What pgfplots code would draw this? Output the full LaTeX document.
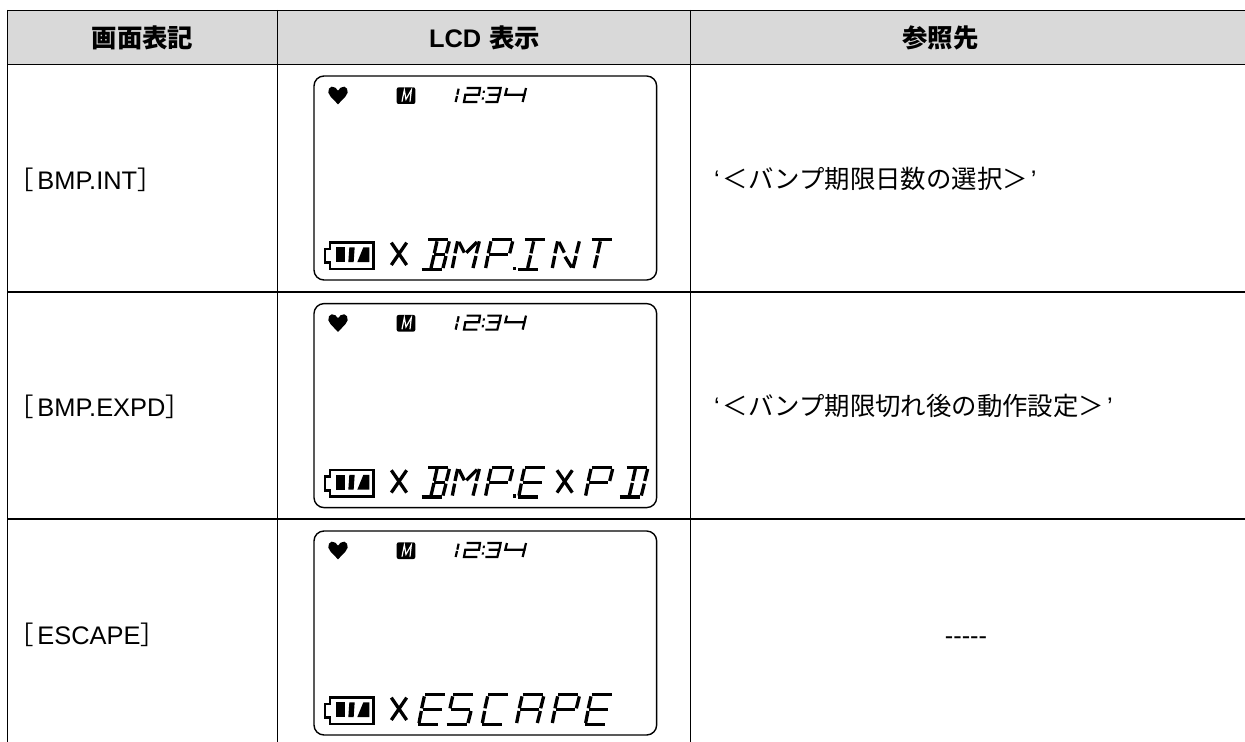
\documentclass[border=0pt]{standalone}
\usepackage{pgfplots}
\pgfplotsset{compat=1.18}
\usepackage{fontspec}
\setmainfont{Liberation Sans}
\newfontfamily\cjk{Noto Sans CJK JP}
\definecolor{hdr}{HTML}{D9D9D9}
\def\lx{0}\def\dy{0}
\pgfplotsset{
  lcdgeom/.style={forget plot,
    x filter/.code={\pgfmathparse{270+(\lx+##1)/3}},
    y filter/.code={\pgfmathparse{60+##1/3+\dy}}},
  tline/.style={forget plot,black,line width=#1,line cap=butt},
}
\newcommand\seg[1]{\addplot[lcdgeom,black,line width=3.3bp,line cap=butt] coordinates {#1};}
\newcommand\thin[1]{\addplot[lcdgeom,black,line width=2.2bp,line cap=butt] coordinates {#1};}
\newcommand\blob[1]{\addplot[lcdgeom,fill=black,draw=none] coordinates {#1} --cycle;}
% segments in a letter cell
\newcommand\Sa{\seg{(20,539)(80,539)}}
\newcommand\Sf{\seg{(18,544)(10,580)}}
\newcommand\Sb{\seg{(83,544)(74,580)}}
\newcommand\Sg{\seg{(13,584)(70,584)}}
\newcommand\Sgr{\seg{(38,584)(70,584)}}
\newcommand\Se{\seg{(9,588)(2,624)}}
\newcommand\Sc{\seg{(73,588)(64,624)}}
\newcommand\Sd{\seg{(0,628)(60,628)}}
\newcommand\Sj{\seg{(46,544)(38,580)}}
\newcommand\Sm{\seg{(37,586)(28,624)}}
\newcommand\gB{\Sa\Sb\Sc\Sd\Sgr\Sj\Sm}
\newcommand\gD{\Sa\Sb\Sc\Sd\Sj\Sm}
\newcommand\gM{\Sf\Se\Sb\Sc\seg{(22,546)(38,578)}\seg{(76,546)(44,578)}}
\newcommand\gP{\Sa\Sf\Se\Sb\Sg}
\newcommand\gE{\Sa\Sf\Se\Sg\Sd}
\newcommand\gI{\Sa\Sj\Sm\Sd}
\newcommand\gN{\Sf\Se\Sb\Sc\seg{(22,546)(38,578)}\seg{(40,590)(60,622)}}
\newcommand\gT{\Sa\Sj\Sm}
\newcommand\gS{\Sa\Sf\Sg\Sc\Sd}
\newcommand\gC{\Sa\Sf\Se\Sd}
\newcommand\gA{\Sa\Sf\Se\Sb\Sc\Sg}
\newcommand\gX{\seg{(50,548)(4,615)}\seg{(4,548)(50,615)}}
\newcommand\gDot{\blob{(0,620)(9,620)(9,631)(0,631)}}
\newcommand\at[2]{\def\lx{#1}#2}
\newcommand\panel[1]{%
  \def\dy{#1}\def\lx{0}%
  \addplot[lcdgeom,black,line width=1.4bp,rounded corners=10bp] coordinates {(132,48)(1160,48)(1160,660)(132,660)} --cycle;
  \blob{(204,92)(196,83)(185,80)(177,86)(175,98)(182,110)(204,133)(226,110)(233,98)(231,86)(223,80)(212,83)}
  \addplot[lcdgeom,fill=black,draw=none,rounded corners=2bp] coordinates {(380,82)(436,82)(436,132)(380,132)} --cycle;
  \addplot[lcdgeom,white,line width=1.2bp] coordinates {(396,125)(403,90)(408,118)(424,90)(420,125)};
  \thin{(566,86)(562,104)}\thin{(561,108)(557,126)}
  \thin{(590,84)(630,84)(627,104)(586,104)(582,126)(622,126)}
  \blob{(639,92)(645,92)(644,99)(638,99)}\blob{(636,112)(642,112)(641,119)(635,119)}
  \thin{(652,84)(692,84)(688,104)(656,104)}\thin{(687,106)(682,126)(646,126)}
  \thin{(711,84)(706,104)(766,104)}\thin{(768,84)(758,126)}
  \addplot[lcdgeom,black,line width=2.5bp] coordinates {(180,547)(310,547)(310,627)(180,627)(180,608)(165,608)(165,567)(180,567)} --cycle;
  \blob{(197,562)(225,562)(225,606)(197,606)}
  \blob{(238,562)(254,562)(251,606)(235,606)}
  \blob{(280,562)(298,562)(298,606)(262,606)}
  \at{360}{\gX}
}
\begin{document}
\begin{tikzpicture}
\path (0,0) rectangle (1245bp,742bp);
\begin{axis}[
  at={(0,0)},anchor=south west,
  width=1245bp,height=742bp,scale only axis,
  xmin=0,xmax=1245,ymin=0,ymax=742,y dir=reverse,
  hide axis,clip=true,
  nodes={inner sep=0pt,outer sep=0pt,font=\fontsize{25.4bp}{30bp}\selectfont,text=black},
]
% header band and rules
\addplot[forget plot,fill=hdr,draw=none] coordinates {(8,11)(1245,11)(1245,64)(8,64)} --cycle;
\addplot[tline=1.2bp] coordinates {(7,10.4)(1245,10.4)};
\addplot[tline=1.8bp] coordinates {(7,64.6)(1245,64.6)};
\addplot[tline=1.8bp] coordinates {(7,291.7)(1245,291.7)};
\addplot[tline=1.8bp] coordinates {(7,519.2)(1245,519.2)};
\addplot[tline=1.4bp] coordinates {(7.4,10)(7.4,742)};
\addplot[tline=1.4bp] coordinates {(277.5,10)(277.5,742)};
\addplot[tline=1.4bp] coordinates {(690.2,10)(690.2,742)};
% LCD panels
\panel{0}
\at{455}{\gB}\at{545}{\gM}\at{645}{\gP}\at{728}{\gDot}\at{745}{\gI}\at{845}{\gN}\at{945}{\gT}
\panel{227.6}
\at{455}{\gB}\at{545}{\gM}\at{645}{\gP}\at{728}{\gDot}\at{745}{\gE}\at{857}{\gX}\at{945}{\gP}\at{1050}{\gD}
\panel{455}
\at{445}{\gE}\at{530}{\gS}\at{635}{\gC}\at{738}{\gA}\at{845}{\gP}\at{945}{\gE}
% texts
\node[anchor=base] at (axis cs:142.5,47.5) {\bfseries\cjk 画面表記};
\node[anchor=base west] at (axis cs:429,47.5) {\bfseries LCD {\kern1bp\cjk 表示}};
\node[anchor=base] at (axis cs:940.5,47.5) {\bfseries\cjk 参照先};
\node[anchor=base west] at (axis cs:8,189.3) {{\cjk ［}\kern4bp BMP.INT{\cjk ］}};
\node[anchor=base west] at (axis cs:8,416.6) {{\cjk ［}\kern4bp BMP.EXPD{\cjk ］}};
\node[anchor=base west] at (axis cs:8,644) {{\cjk ［}\kern4bp ESCAPE{\cjk ］}};
\node[anchor=base west] at (axis cs:714,188.5) {‘\kern3bp{\cjk ＜バンプ期限日数の選択＞}\kern3bp’};
\node[anchor=base west] at (axis cs:714,415.8) {‘\kern3bp{\cjk ＜バンプ期限切れ後の動作設定＞}\kern3bp’};
\node[anchor=base] at (axis cs:966,644) {-{}-{}-{}-{}-};
\end{axis}
\end{tikzpicture}
\end{document}
